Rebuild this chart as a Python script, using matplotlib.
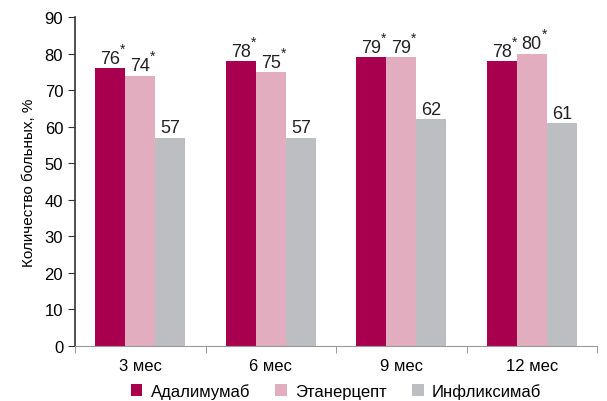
import numpy as np
import matplotlib.pyplot as plt
from matplotlib import font_manager

periods = ['3 мес', '6 мес', '9 мес', '12 мес']
adalimumab = [76, 78, 79, 78]
etanercept = [74, 75, 79, 80]
infliximab = [57, 57, 62, 61]
starred = [True, True, False]
names = ['Адалимумаб', 'Этанерцепт', 'Инфликсимаб']
colors = ['#A8004F', '#E2AEBF', '#BDBEC2']

available = {f.name for f in font_manager.fontManager.ttflist}
fam = 'Liberation Sans Narrow' if 'Liberation Sans Narrow' in available else 'Liberation Sans'
plt.rcParams['font.family'] = [fam, 'DejaVu Sans']

fig = plt.figure(figsize=(6.07, 4.02), dpi=100)
ax = fig.add_axes([0.1236, 0.137, 0.86, 0.818])

x = np.arange(len(periods))
w = 0.23
series = [adalimumab, etanercept, infliximab]
for i, (vals, c, n) in enumerate(zip(series, colors, names)):
    pos = x + (i - 1) * w
    ax.bar(pos, vals, width=w, color=c, label=n, edgecolor='none')
    for p, v in zip(pos, vals):
        ax.annotate(str(v), (p, v), xytext=(0, 1), textcoords='offset points',
                    ha='center', va='bottom', fontsize=13, color='#222222')
        if starred[i]:
            ax.annotate('*', (p, v), xytext=(9, 9), textcoords='offset points',
                        ha='center', va='bottom', fontsize=10, color='#222222')

ax.set_xlim(-0.5, len(periods) - 0.5)
ax.set_ylim(0, 90)
ax.set_yticks(range(0, 91, 10))
ax.set_xticks(x)
ax.set_xticklabels(periods)
ax.set_xticks(np.arange(-0.5, len(periods), 1), minor=True)
ax.tick_params(axis='x', which='major', length=0, pad=9, labelsize=12)
ax.tick_params(axis='x', which='minor', length=5, color='#888888')
ax.tick_params(axis='y', length=5, labelsize=12, color='#333333')
ax.spines['top'].set_visible(False)
ax.spines['right'].set_visible(False)
ax.spines['left'].set_color('#333333')
ax.spines['bottom'].set_color('#999999')
ax.spines['left'].set_linewidth(1.2)
ax.set_ylabel('Количество больных, %', fontsize=11, labelpad=6)

ax.legend(loc='center', bbox_to_anchor=(0.5, -0.137), ncol=3, frameon=False,
          handlelength=0.7, handleheight=0.7, handletextpad=0.5, columnspacing=1.5,
          fontsize=12)

fig.savefig('out.png', dpi=100)
